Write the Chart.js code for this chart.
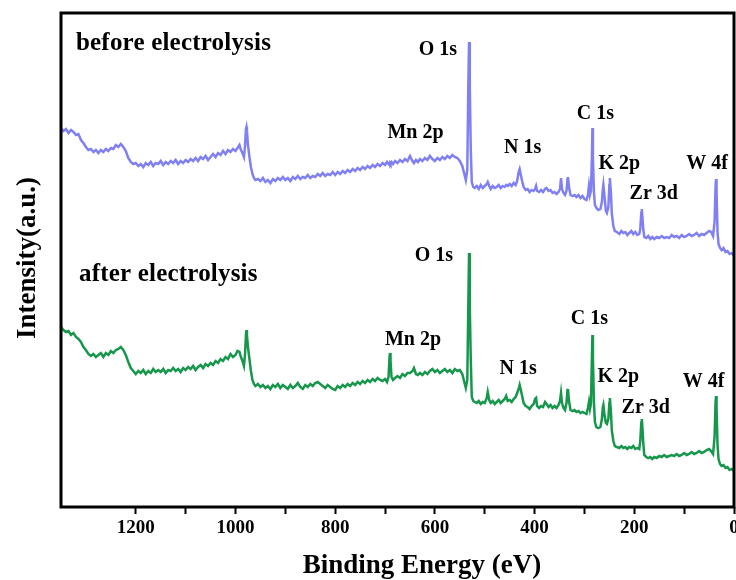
<!DOCTYPE html>
<html>
<head>
<meta charset="utf-8">
<title>XPS survey</title>
<script src="https://cdn.jsdelivr.net/npm/chart.js@4/dist/chart.umd.min.js"></script>
<style>
  html, body { margin: 0; padding: 0; background: #fff; }
  #wrap { width: 736px; height: 580px; }
</style>
</head>
<body>
<div id="wrap"><canvas id="xps" width="736" height="580"></canvas></div>
<script>
// --- survey data (binding energy in eV, intensity in a.u.) ---
const energy = [
  1350,1345,1340,1335,1330,1325,1320,1315,1310,1305,1300,1295,1290,1285,1280,1275,1270,1265,1260,1255,
  1250,1245,1240,1235,1230,1225,1220,1215,1210,1205,1200,1195,1190,1185,1180,1175,1170,1165,1160,1155,
  1150,1145,1140,1135,1130,1125,1120,1115,1110,1105,1100,1095,1090,1085,1080,1075,1070,1065,1060,1055,
  1050,1045,1040,1035,1030,1025,1020,1015,1010,1005,1000,
  996,992,989,986,983,981,979,978,977,975,972,969,966,963,960,
  955,950,945,940,935,930,925,920,915,910,905,900,895,890,885,880,875,870,865,860,
  855,850,845,840,835,830,825,820,815,810,805,800,795,790,785,780,775,770,765,760,
  755,750,745,740,735,730,725,720,715,710,705,700,696,693,691,690,689,687,684,680,
  675,670,665,660,655,650,645,642,638,634,630,625,620,615,610,605,600,595,590,585,
  580,575,570,565,560,555,550,545,541,538,535,533,531.5,530,528,526,523,
  520,516,512,508,504,500,496,494,491,488,484,480,476,472,468,464,460,457,454,450,
  446,442,438,435,432,430,428,425,422,418,414,410,406,402,399,397,395,391,387,383,
  379,376,372,368,364,360,356,352,349,347,345,342,339,336,334,333,331,328,324,320,
  316,312,308,304,300,296,293,291,289,287,285,284,283,281,279,276,272,268,265,263,
  262,260,257,255,252,250,249,247,245,242,239,235,230,226,222,218,214,210,206,202,
  198,194,190,188,186,185,184,182,180,176,172,168,164,160,155,150,145,140,135,130,
  125,120,115,110,105,100,95,90,85,80,75,70,65,60,55,50,46,42,39,37,
  36,35,33,31,28,25,21,17,13,9,5,0
];

const beforeCounts = [
  379,376,378,374,377,375,372,373,367,364,360,357,358,355,357,354,357,355,358,356,
  359,358,362,360,363,360,356,349,345,343,344,341,343,340,344,342,345,341,344,343,
  346,342,345,343,346,344,347,343,346,344,347,345,348,346,349,346,350,348,351,347,
  350,353,350,354,352,356,353,357,355,358,356,
  359,362,357,354,350,360,378,380,376,362,350,340,333,329,327,
  328,326,329,325,327,324,328,326,329,327,330,327,329,326,330,328,331,328,330,329,
  332,329,331,330,333,331,334,331,333,332,335,332,335,333,336,334,337,335,338,336,
  339,337,340,338,341,339,342,340,343,341,344,342,345,343,342,344,343,345,343,346,
  344,347,345,348,346,351,346,344,347,345,348,346,349,347,351,348,346,349,347,350,
  348,351,349,352,350,349,346,341,333,327,337,420,465,420,357,325,320,
  319,321,318,322,319,321,323,325,321,318,321,319,320,322,319,321,320,322,321,323,
  321,324,322,326,335,338,333,326,320,317,318,315,317,316,318,321,316,315,317,315,
  318,319,316,317,314,315,313,315,318,329,318,314,312,316,328,330,320,312,311,312,
  310,312,309,311,308,307,312,321,312,316,350,379,350,315,302,299,297,298,305,318,
  322,312,296,294,300,322,329,315,293,281,276,275,273,276,274,275,272,274,276,273,
  275,272,273,278,294,298,292,278,270,269,271,268,270,268,270,269,271,269,270,269,
  272,270,271,269,272,270,271,273,271,272,274,271,273,272,274,276,275,271,285,320,
  328,315,275,263,259,257,259,255,256,253,254,251
];

const afterCounts = [
  180,177,175,176,172,174,170,168,165,160,157,153,151,153,150,152,154,150,154,152,
  156,154,157,158,160,157,152,145,139,136,133,136,134,137,133,136,134,138,135,137,
  135,138,134,137,136,139,136,138,135,139,137,140,138,141,137,140,142,139,143,141,
  144,142,146,144,148,146,150,148,153,150,152,
  156,155,150,146,141,152,172,177,172,160,148,136,127,123,121,
  123,120,122,119,121,118,122,120,123,119,122,120,118,122,119,121,124,120,118,122,
  120,123,121,124,125,123,121,119,122,120,118,117,121,119,122,120,123,121,124,122,
  125,123,126,124,127,125,128,126,129,127,126,128,125,130,150,154,146,130,127,129,
  131,129,133,131,134,134,136,139,133,132,134,132,135,133,136,138,135,137,134,136,
  138,135,137,134,138,136,137,133,125,119,127,200,254,200,147,110,106,
  105,104,106,103,105,104,109,115,107,104,106,103,105,107,104,106,108,111,106,107,
  105,108,110,114,118,122,118,111,104,101,100,98,101,103,108,109,101,99,101,100,
  105,103,100,102,99,101,99,102,106,114,104,99,97,104,117,118,106,97,96,97,
  95,96,94,95,94,93,99,105,98,103,150,172,150,105,85,80,79,80,88,100,
  102,93,84,83,88,104,109,96,76,66,61,60,59,61,59,60,58,60,59,61,
  58,59,58,66,84,88,82,64,52,50,49,50,48,50,49,51,50,52,50,51,
  52,51,53,51,52,54,52,53,55,53,54,56,54,55,57,58,56,53,70,105,
  111,98,62,48,43,41,42,39,40,37,38,36
];

// x axis: labelled every 200 eV, minor marks every 100 eV
const tickStep = 100;
const labelStep = 200;

// peak assignments: [text, energy, intensity]
const beforePeaks = [
  ['O 1s', 594, 457], ['Mn 2p', 639, 374], ['N 1s', 424, 359], ['C 1s', 278, 393],
  ['K 2p', 230, 343], ['Zr 3d', 161, 313], ['W 4f', 54, 343]
];
const afterPeaks = [
  ['O 1s', 602, 251], ['Mn 2p', 644, 167], ['N 1s', 433, 138], ['C 1s', 290, 188],
  ['K 2p', 232, 130], ['Zr 3d', 177, 99], ['W 4f', 61, 125]
];
const sampleNames = [['before electrolysis', 1320, 463], ['after electrolysis', 1314, 232]];

const PURPLE = '#8080f2';
const GREEN = '#16974c';
const SERIF = "'Times New Roman', 'Liberation Serif', serif";

const toPoints = (ys) => energy.map((e, i) => ({ x: e, y: ys[i] }));

// frame + annotations
const annotate = {
  id: 'annotate',
  afterDatasetsDraw(chart) {
    const { ctx, chartArea: a, scales: { x, y } } = chart;
    ctx.save();
    ctx.strokeStyle = '#000';
    ctx.lineWidth = 3;
    ctx.strokeRect(a.left, a.top, a.right - a.left, a.bottom - a.top);

    ctx.fillStyle = '#000';
    ctx.textBaseline = 'middle';
    ctx.textAlign = 'center';
    ctx.font = 'bold 20px ' + SERIF;
    beforePeaks.concat(afterPeaks).forEach(p => {
      ctx.fillText(p[0], x.getPixelForValue(p[1]), y.getPixelForValue(p[2]));
    });

    ctx.textAlign = 'left';
    ctx.font = 'bold 25px ' + SERIF;
    ctx.letterSpacing = '0.2px';
    sampleNames.forEach(s => {
      ctx.fillText(s[0], x.getPixelForValue(s[1]), y.getPixelForValue(s[2]));
    });

    // axis titles
    ctx.textAlign = 'center';
    ctx.font = 'bold 27px ' + SERIF;
    ctx.letterSpacing = '0px';
    ctx.fillText('Binding Energy (eV)', 422, 566);
    ctx.translate(28, 258);
    ctx.rotate(-Math.PI / 2);
    ctx.fillText('Intensity(a.u.)', 0, 0);
    ctx.restore();
  }
};

new Chart(document.getElementById('xps'), {
  type: 'line',
  data: {
    datasets: [
      { label: 'before electrolysis', data: toPoints(beforeCounts), borderColor: PURPLE, borderWidth: 2.5 },
      { label: 'after electrolysis', data: toPoints(afterCounts), borderColor: GREEN, borderWidth: 2.5 }
    ]
  },
  options: {
    responsive: false,
    animation: false,
    layout: { padding: { left: 61, right: 2, top: 13, bottom: 0 } },
    elements: { point: { radius: 0 }, line: { tension: 0 } },
    plugins: { legend: { display: false }, tooltip: { enabled: false } },
    scales: {
      x: {
        type: 'linear',
        reverse: true,
        min: 0,
        max: 1350,
        grid: { display: true, drawOnChartArea: false, drawTicks: true, tickLength: 7, tickWidth: 2, tickColor: '#000' },
        border: { display: false },
        ticks: {
          stepSize: tickStep,
          padding: 3,
          color: '#000',
          font: { family: SERIF, size: 19, weight: 'bold' },
          maxRotation: 0,
          autoSkip: false,
          callback: v => (v % labelStep === 0 ? v : '')
        },
        afterBuildTicks: s => { s.ticks = s.ticks.filter(t => t.value % tickStep === 0); },
        afterFit: s => { s.height = 73; s.paddingLeft = 0; s.paddingRight = 0; }
      },
      y: { display: false, min: 0, max: 494 }
    }
  },
  plugins: [annotate]
});
</script>
</body>
</html>
